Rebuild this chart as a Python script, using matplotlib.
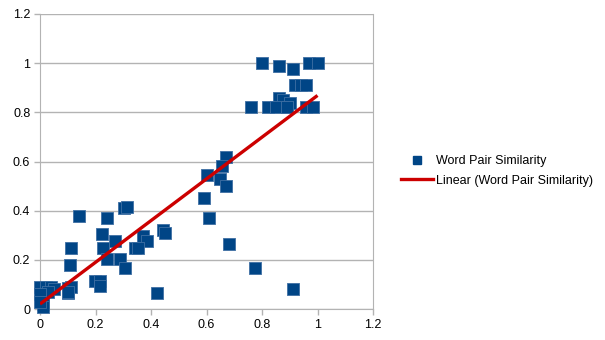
import matplotlib.pyplot as plt
import numpy as np
from matplotlib.lines import Line2D

plt.rcParams['font.family'] = ['Liberation Sans', 'DejaVu Sans']

# word pair similarity: x = one measure, y = other measure
sim_x = [0.80, 0.86, 0.91, 0.97, 1.0, 0.92, 0.94, 0.96,
         0.86, 0.875, 0.90, 0.89, 0.76, 0.82, 0.85, 0.89, 0.96, 0.985,
         0.67, 0.655, 0.60, 0.65, 0.67, 0.59, 0.61, 0.68, 0.775, 0.91,
         0.141, 0.224, 0.243, 0.304, 0.312, 0.11, 0.107, 0.228, 0.27,
         0.242, 0.29, 0.308, 0.198, 0.216, 0.218, 0.37, 0.387, 0.342,
         0.352, 0.442, 0.45, 0.42,
         0.0, 0.02, 0.04, 0.05, 0.01, 0.01, 0.01, 0.01, 0.10, 0.10,
         0.11, 0.10, 0.03, 0.0, 0.0]
sim_y = [1.0, 0.99, 0.975, 1.0, 1.0, 0.91, 0.91, 0.91,
         0.86, 0.85, 0.84, 0.82, 0.82, 0.82, 0.82, 0.82, 0.82, 0.82,
         0.62, 0.58, 0.545, 0.53, 0.50, 0.45, 0.37, 0.265, 0.165, 0.08,
         0.38, 0.304, 0.37, 0.41, 0.414, 0.247, 0.18, 0.25, 0.277,
         0.204, 0.205, 0.167, 0.112, 0.112, 0.092, 0.295, 0.277, 0.25,
         0.25, 0.32, 0.31, 0.067,
         0.09, 0.09, 0.09, 0.08, 0.06, 0.04, 0.02, 0.01, 0.085, 0.065,
         0.09, 0.07, 0.07, 0.06, 0.03]

x_ticks = [0, 0.2, 0.4, 0.6, 0.8, 1, 1.2]
y_ticks = [0, 0.2, 0.4, 0.6, 0.8, 1, 1.2]

blue = '#004586'
red = '#cc0000'
grey = '#b3b3b3'

fig = plt.figure(figsize=(6.05, 3.4), dpi=100)
ax = fig.add_axes([40 / 605, 1 - 309 / 340, 333 / 605, 295 / 340])

ax.scatter(sim_x, sim_y, marker='s', s=72, color=blue, linewidths=0.6,
           edgecolors='#3f6fa3', zorder=3, clip_on=False)

# linear trendline over the data range
xs = np.array(sim_x)
slope, icpt = np.polyfit(xs, np.array(sim_y), 1)
tx = np.array([xs.min(), xs.max()])
ax.plot(tx, slope * tx + icpt, color=red, lw=2.4, zorder=4, solid_capstyle='butt')

ax.set_xlim(0, 1.2)
ax.set_ylim(0, 1.2)
ax.set_xticks(x_ticks)
ax.set_yticks(y_ticks)
ax.set_xticklabels(['%g' % v for v in x_ticks])
ax.set_yticklabels(['%g' % v for v in y_ticks])
ax.tick_params(labelsize=9, color=grey, length=4, width=1, pad=3)
ax.yaxis.grid(True, color=grey, lw=1)
ax.set_axisbelow(True)
for side in ['left', 'right', 'bottom']:
    ax.spines[side].set_color(grey)
ax.spines['top'].set_visible(False)

handles = [Line2D([], [], marker='s', ls='none', color=blue, markersize=6),
           Line2D([], [], color=red, lw=2.4)]
fig.legend(handles, ['Word Pair Similarity', 'Linear (Word Pair Similarity)'],
           loc='center left', bbox_to_anchor=(395 / 605, 1 - 171 / 340),
           frameon=False, fontsize=9, handlelength=2.5, handletextpad=0.3,
           borderpad=0, labelspacing=0.6)

fig.savefig('out.png', dpi=100)
